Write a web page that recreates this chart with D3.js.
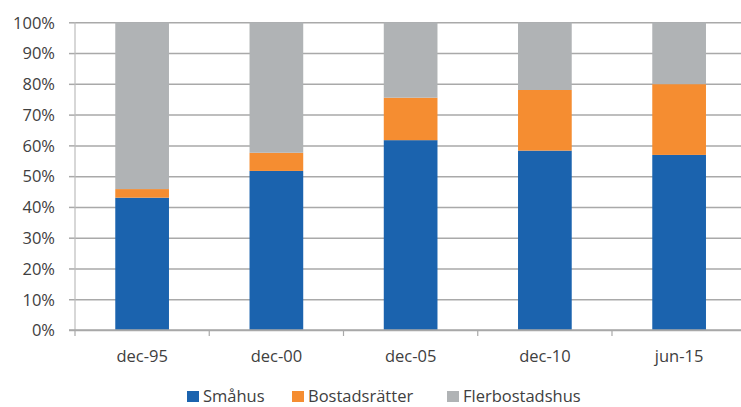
<!DOCTYPE html>
<html>
<head>
<meta charset="utf-8">
<script src="https://cdn.jsdelivr.net/npm/d3@7"></script>
<style>
  html, body { margin: 0; padding: 0; background: #fff; }
  svg { display: block; }
  text { font-family: "Open Sans", Lato, sans-serif; fill: #404040; }
</style>
</head>
<body>
<svg id="chart" width="741" height="407"></svg>
<script>
// Share of housing by type (percent of total)
const categories = ["dec-95", "dec-00", "dec-05", "dec-10", "jun-15"];
const seriesNames = ["Småhus", "Bostadsrätter", "Flerbostadshus"];
const smahus = [43.0, 51.7, 61.7, 58.3, 56.9];
const bostadsratter = [2.8, 5.9, 13.8, 19.7, 23.0];
const flerbostadshus = [54.2, 42.4, 24.5, 22.0, 20.1];
const yTicks = [0, 10, 20, 30, 40, 50, 60, 70, 80, 90, 100];
const colors = ["#1b63ae", "#f58d31", "#b0b3b5"];

const rows = categories.map((c, i) => ({
  cat: c,
  "Småhus": smahus[i],
  "Bostadsrätter": bostadsratter[i],
  "Flerbostadshus": flerbostadshus[i]
}));

const svg = d3.select("#chart");
const plotLeft = 75, plotRight = 746.25, plotTop = 22.3, plotBottom = 330;
const fontSize = "16.5px";

const x = d3.scaleBand().domain(categories).range([plotLeft, plotRight])
  .paddingInner(0.6).paddingOuter(0.3);
const y = d3.scaleLinear().domain([0, 100]).range([plotBottom, plotTop]);
const color = d3.scaleOrdinal().domain(seriesNames).range(colors);

// horizontal gridlines with short ticks left of the axis
const yAxis = svg.append("g")
  .attr("transform", `translate(${plotLeft},0)`)
  .call(d3.axisLeft(y).tickValues(yTicks).tickSize(6).tickFormat(d => d + "%"));
yAxis.select(".domain").remove();
yAxis.selectAll(".tick line").attr("stroke", "#a9a9a9").attr("stroke-width", 1.5)
  .attr("x1", 0).attr("x2", -6);
yAxis.selectAll(".tick").append("line")
  .attr("x1", 0).attr("x2", 741 - plotLeft)
  .attr("stroke", "#a9a9a9").attr("stroke-width", 1.5);
yAxis.selectAll(".tick text")
  .attr("x", -20).attr("dy", "0.35em")
  .style("font-size", fontSize).attr("fill", "#404040");

// vertical axis line
svg.append("line")
  .attr("x1", plotLeft).attr("x2", plotLeft).attr("y1", plotTop).attr("y2", plotBottom)
  .attr("stroke", "#bdbdbd").attr("stroke-width", 1.2);

// stacked bars
const stack = d3.stack().keys(seriesNames);
const layers = stack(rows);
svg.append("g").selectAll("g")
  .data(layers).join("g")
  .attr("fill", d => color(d.key))
  .selectAll("rect")
  .data(d => d).join("rect")
  .attr("x", d => x(d.data.cat))
  .attr("width", x.bandwidth())
  .attr("y", d => y(d[1]))
  .attr("height", d => y(d[0]) - y(d[1]));

// category axis
const step = x.step();
const xAxis = svg.append("g").attr("transform", `translate(0,${plotBottom})`);
xAxis.append("line").attr("x1", plotLeft - 6).attr("x2", 741)
  .attr("stroke", "#a9a9a9").attr("stroke-width", 1.5);
const boundaries = d3.range(categories.length + 1).map(i => plotLeft + i * step).filter(v => v <= 741);
xAxis.selectAll(".bt").data(boundaries).join("line")
  .attr("x1", d => d).attr("x2", d => d).attr("y1", 0).attr("y2", 6)
  .attr("stroke", "#a9a9a9").attr("stroke-width", 1.2);
xAxis.selectAll("text").data(categories).join("text")
  .attr("x", d => x(d) + x.bandwidth() / 2)
  .attr("y", 32)
  .attr("text-anchor", "middle")
  .style("font-size", fontSize)
  .text(d => d);

// legend
const legend = svg.append("g").attr("transform", "translate(0,396.5)");
const legendX = [187, 292, 447];
seriesNames.forEach((name, i) => {
  const g = legend.append("g").attr("transform", `translate(${legendX[i]},0)`);
  g.append("rect").attr("x", 0).attr("y", -5.5).attr("width", 12).attr("height", 11)
    .attr("fill", colors[i]);
  g.append("text").attr("x", 16).attr("y", 5.5)
    .style("font-size", fontSize).text(name);
});
</script>
</body>
</html>
